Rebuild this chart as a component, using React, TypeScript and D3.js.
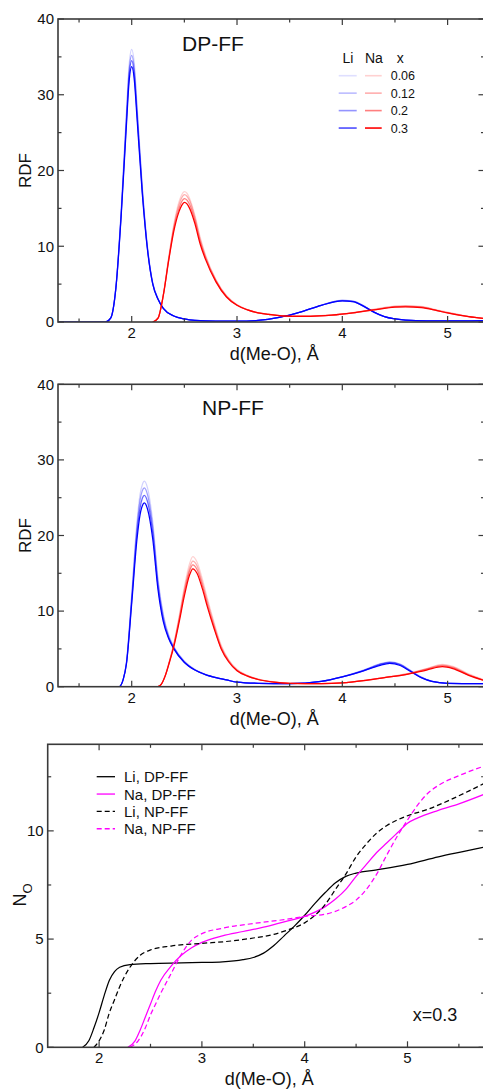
import React from "react";
import * as d3 from "d3";

const W = 483;
const H = 1089;
const FONT = "'Liberation Sans', Arial, Helvetica, sans-serif";

// ---- RDF, DP-FF ----
const dpLiR = [1.3, 1.75, 1.8, 1.85, 1.9, 1.95, 1.975, 2.0, 2.025, 2.05, 2.1, 2.15, 2.2, 2.25, 2.3, 2.4, 2.5, 2.6, 2.8, 3.0, 3.2, 3.4, 3.6, 3.8, 4.0, 4.1, 4.2, 4.3, 4.4, 4.6, 4.8, 5.0, 5.35];
const dpLi006 = [0, 0, 0.5, 4.7, 14.8, 27.8, 33.9, 36.0, 34.1, 28.8, 18.1, 9.9, 5.2, 3.1, 1.8, 0.8, 0.4, 0.2, 0.1, 0.1, 0.2, 0.6, 1.3, 2.2, 2.9, 2.8, 2.2, 1.35, 0.7, 0.25, 0.15, 0.15, 0.2];
const dpLi012 = [0, 0, 0.5, 4.6, 14.5, 27.2, 33.1, 35.2, 33.3, 28.2, 17.7, 9.8, 5.1, 3.05, 1.8, 0.8, 0.4, 0.2, 0.1, 0.1, 0.2, 0.6, 1.3, 2.2, 2.85, 2.75, 2.15, 1.3, 0.7, 0.25, 0.15, 0.15, 0.2];
const dpLi02 = [0, 0, 0.5, 4.5, 14.2, 26.6, 32.4, 34.5, 32.6, 27.6, 17.4, 9.6, 5.0, 3.0, 1.8, 0.8, 0.4, 0.2, 0.1, 0.1, 0.2, 0.6, 1.3, 2.2, 2.8, 2.7, 2.1, 1.3, 0.7, 0.25, 0.15, 0.15, 0.2];
const dpLi03 = [0, 0, 0.5, 4.5, 14, 26, 31.7, 33.7, 31.9, 27, 17, 9.5, 5, 3, 1.8, 0.8, 0.4, 0.2, 0.1, 0.1, 0.2, 0.6, 1.3, 2.2, 2.8, 2.7, 2.1, 1.3, 0.7, 0.25, 0.15, 0.15, 0.2];

const dpNaR = [2.2, 2.25, 2.3, 2.35, 2.4, 2.45, 2.475, 2.5, 2.525, 2.55, 2.6, 2.65, 2.7, 2.8, 2.9, 3.0, 3.1, 3.2, 3.3, 3.5, 3.7, 3.9, 4.1, 4.3, 4.5, 4.6, 4.75, 4.9, 5.0, 5.2, 5.35];
const dpNa006 = [0, 0.5, 3.6, 8.4, 12.9, 15.9, 16.8, 17.2, 17.0, 16.3, 14.1, 11.2, 8.9, 5.6, 3.5, 2.3, 1.65, 1.25, 1.05, 0.8, 0.8, 0.95, 1.25, 1.7, 2.1, 2.15, 2.05, 1.6, 1.3, 0.75, 0.5];
const dpNa012 = [0, 0.5, 3.6, 8.3, 12.6, 15.5, 16.4, 16.8, 16.6, 16.0, 13.8, 10.9, 8.7, 5.5, 3.4, 2.25, 1.6, 1.2, 1.0, 0.8, 0.8, 0.9, 1.2, 1.65, 2.05, 2.1, 2.0, 1.55, 1.25, 0.7, 0.45];
const dpNa02 = [0, 0.5, 3.5, 8.1, 12.3, 15.0, 15.9, 16.3, 16.1, 15.5, 13.4, 10.6, 8.5, 5.4, 3.35, 2.2, 1.6, 1.2, 1.0, 0.75, 0.75, 0.9, 1.2, 1.6, 2.0, 2.05, 1.95, 1.5, 1.2, 0.7, 0.45];
const dpNa03 = [0, 0.5, 3.5, 8, 12, 14.6, 15.4, 15.8, 15.6, 15, 13, 10.3, 8.3, 5.3, 3.3, 2.2, 1.6, 1.2, 1.0, 0.75, 0.75, 0.9, 1.2, 1.6, 1.95, 2.0, 1.9, 1.5, 1.2, 0.7, 0.45];

// ---- RDF, NP-FF ----
const npLiR = [1.85, 1.88, 1.92, 1.95, 2.0, 2.05, 2.08, 2.1, 2.12, 2.15, 2.2, 2.25, 2.3, 2.35, 2.4, 2.5, 2.6, 2.7, 2.8, 2.9, 3.0, 3.2, 3.5, 3.8, 4.0, 4.2, 4.35, 4.45, 4.55, 4.65, 4.75, 4.85, 5.0, 5.35];
const npLi006 = [0, 0, 1, 3.3, 12.3, 21.8, 25.5, 26.7, 27.2, 26.3, 21.8, 14.3, 9.6, 6.9, 5.3, 3.4, 2.3, 1.65, 1.25, 0.9, 0.6, 0.45, 0.4, 0.7, 1.35, 2.2, 3.0, 3.3, 3.0, 2.15, 1.3, 0.75, 0.45, 0.4];
const npLi012 = [0, 0, 1, 3.2, 11.9, 21.1, 24.7, 25.9, 26.3, 25.4, 21.1, 13.8, 9.3, 6.7, 5.2, 3.3, 2.25, 1.6, 1.2, 0.9, 0.6, 0.45, 0.4, 0.7, 1.3, 2.15, 2.95, 3.25, 2.95, 2.1, 1.25, 0.7, 0.45, 0.4];
const npLi02 = [0, 0, 1, 3.1, 11.4, 20.3, 23.7, 24.9, 25.3, 24.5, 20.3, 13.3, 8.9, 6.5, 5.1, 3.25, 2.2, 1.6, 1.2, 0.9, 0.6, 0.45, 0.4, 0.7, 1.3, 2.1, 2.9, 3.2, 2.9, 2.05, 1.2, 0.7, 0.45, 0.4];
const npLi03 = [0, 0, 1, 3, 11, 19.5, 22.8, 23.9, 24.3, 23.5, 19.5, 12.8, 8.6, 6.4, 5, 3.2, 2.2, 1.6, 1.2, 0.9, 0.6, 0.45, 0.4, 0.7, 1.3, 2.1, 2.8, 3.1, 2.8, 2.0, 1.2, 0.7, 0.45, 0.4];

const npNaR = [2.25, 2.28, 2.32, 2.36, 2.4, 2.45, 2.5, 2.55, 2.58, 2.62, 2.67, 2.72, 2.78, 2.85, 2.92, 3.0, 3.1, 3.2, 3.35, 3.5, 3.8, 4.0, 4.2, 4.4, 4.6, 4.8, 4.95, 5.05, 5.2, 5.35];
const npNa006 = [0, 0.3, 1.6, 3.5, 5.7, 9.3, 13.2, 16.3, 17.2, 16.5, 14.3, 11.6, 8.6, 5.5, 3.6, 2.3, 1.5, 1.0, 0.65, 0.45, 0.4, 0.5, 0.85, 1.25, 1.7, 2.4, 2.95, 2.7, 1.7, 0.9];
const npNa012 = [0, 0.3, 1.55, 3.45, 5.6, 9.0, 12.8, 15.7, 16.6, 16.0, 13.8, 11.2, 8.3, 5.3, 3.5, 2.2, 1.45, 1.0, 0.6, 0.45, 0.4, 0.5, 0.8, 1.2, 1.65, 2.35, 2.85, 2.6, 1.6, 0.85];
const npNa02 = [0, 0.3, 1.5, 3.4, 5.5, 8.8, 12.4, 15.3, 16.1, 15.5, 13.4, 10.8, 8.0, 5.1, 3.4, 2.15, 1.4, 0.95, 0.6, 0.45, 0.4, 0.5, 0.8, 1.2, 1.6, 2.3, 2.75, 2.5, 1.55, 0.8];
const npNa03 = [0, 0.3, 1.5, 3.3, 5.3, 8.5, 12, 14.8, 15.6, 15, 13, 10.5, 7.8, 5, 3.3, 2.1, 1.4, 0.95, 0.6, 0.45, 0.4, 0.5, 0.8, 1.2, 1.6, 2.2, 2.65, 2.4, 1.5, 0.8];

// ---- running coordination number, x = 0.3 ----
const liDpR = [1.84, 1.9, 1.95, 2.0, 2.05, 2.1, 2.15, 2.2, 2.3, 2.5, 2.8, 3.0, 3.2, 3.4, 3.5, 3.6, 3.7, 3.8, 3.9, 4.0, 4.1, 4.2, 4.3, 4.4, 4.5, 4.7, 5.0, 5.3, 5.55, 5.75];
const liDpN = [0, 0.3, 0.9, 1.6, 2.4, 3.1, 3.5, 3.7, 3.82, 3.87, 3.9, 3.92, 3.95, 4.05, 4.15, 4.35, 4.7, 5.15, 5.6, 6.1, 6.65, 7.15, 7.6, 7.9, 8.05, 8.2, 8.45, 8.8, 9.05, 9.25];
const naDpR = [2.28, 2.35, 2.4, 2.45, 2.5, 2.55, 2.6, 2.7, 2.8, 2.9, 3.0, 3.2, 3.4, 3.6, 3.8, 4.0, 4.2, 4.3, 4.4, 4.5, 4.6, 4.7, 4.8, 4.9, 5.0, 5.1, 5.3, 5.5, 5.75];
const naDpN = [0, 0.3, 0.8, 1.4, 2.0, 2.6, 3.1, 3.75, 4.25, 4.6, 4.85, 5.15, 5.35, 5.55, 5.8, 6.05, 6.5, 6.85, 7.3, 7.9, 8.45, 9.0, 9.45, 9.9, 10.35, 10.6, 10.95, 11.25, 11.7];
const liNpR = [1.95, 2.0, 2.05, 2.1, 2.15, 2.2, 2.25, 2.3, 2.4, 2.5, 2.7, 3.0, 3.3, 3.5, 3.7, 3.85, 4.0, 4.1, 4.2, 4.3, 4.4, 4.5, 4.6, 4.7, 4.8, 4.9, 5.0, 5.2, 5.4, 5.6, 5.75];
const liNpN = [0, 0.3, 0.8, 1.6, 2.2, 2.8, 3.3, 3.7, 4.25, 4.5, 4.68, 4.8, 4.92, 5.05, 5.22, 5.45, 5.75, 6.1, 6.6, 7.3, 8.0, 8.8, 9.4, 9.9, 10.25, 10.5, 10.7, 11.0, 11.4, 11.85, 12.2];
const naNpR = [2.3, 2.38, 2.45, 2.5, 2.55, 2.6, 2.7, 2.8, 2.9, 3.0, 3.2, 3.5, 3.8, 4.0, 4.2, 4.4, 4.5, 4.6, 4.7, 4.8, 4.9, 5.0, 5.1, 5.2, 5.3, 5.5, 5.75];
const naNpN = [0, 0.3, 0.9, 1.5, 2.0, 2.5, 3.4, 4.3, 4.95, 5.25, 5.5, 5.72, 5.9, 6.05, 6.15, 6.5, 6.8, 7.3, 8.0, 8.9, 9.75, 10.5, 11.2, 11.75, 12.1, 12.55, 13.0];

// ---- labels / ticks ----
const concLabels = ["0.06", "0.12", "0.2", "0.3"];
const rdfYMajor = [0, 10, 20, 30, 40];
const rdfYMinor = [5, 15, 25, 35];
const noYMajor = [0, 5, 10];
const noYMinor = [2.5, 7.5, 12.5];
const xMajor = [2, 3, 4, 5];
const xMinor = [1.5, 2.5, 3.5, 4.5, 5.5];
const noLegend = ["Li, DP-FF", "Na, DP-FF", "Li, NP-FF", "Na, NP-FF"];

const liOpacity = [0.18, 0.38, 0.6, 1];
const naOpacity = [0.18, 0.32, 0.5, 1];

type Series = { r: number[]; v: number[]; color: string; opacity: number; dash?: string };

function Frame(props: {
  x: d3.ScaleLinear<number, number>;
  y: d3.ScaleLinear<number, number>;
  yMajor: number[];
  yMinor: number[];
  series: Series[];
  id: string;
}) {
  const { x, y, yMajor, yMinor, series, id } = props;
  const [x0, x1] = x.range();
  const [y0, y1] = y.range(); // y0 bottom, y1 top
  const [dx0, dx1] = x.domain();
  const line = d3
    .line<[number, number]>()
    .x(d => x(d[0]))
    .y(d => y(d[1]))
    .curve(d3.curveMonotoneX);
  const xm = xMinor.filter(t => t > dx0 + 0.01 && t < dx1 - 0.01);
  const frameColor = "#3a3a3a";
  return (
    <g>
      <defs>
        <clipPath id={id}>
          <rect x={x0} y={y1} width={x1 - x0} height={y0 - y1} />
        </clipPath>
      </defs>
      <g clipPath={`url(#${id})`}>
        {series.map((s, i) => (
          <path
            key={i}
            d={line(s.r.map((r, k) => [r, s.v[k]] as [number, number])) || ""}
            fill="none"
            stroke={s.color}
            strokeOpacity={s.opacity}
            strokeWidth={1.25}
            strokeDasharray={s.dash}
          />
        ))}
      </g>
      <rect x={x0} y={y1} width={x1 - x0} height={y0 - y1} fill="none" stroke={frameColor} strokeWidth={1.6} />
      {xMajor.map(t => (
        <g key={"xM" + t}>
          <line x1={x(t)} x2={x(t)} y1={y0} y2={y0 - 6} stroke={frameColor} strokeWidth={1.2} />
          <line x1={x(t)} x2={x(t)} y1={y1} y2={y1 + 6} stroke={frameColor} strokeWidth={1.2} />
          <text x={x(t)} y={y0 + 16} textAnchor="middle" fontSize={15} fill="#111">
            {t}
          </text>
        </g>
      ))}
      {xm.map(t => (
        <g key={"xm" + t}>
          <line x1={x(t)} x2={x(t)} y1={y0} y2={y0 - 3.5} stroke={frameColor} strokeWidth={1.2} />
          <line x1={x(t)} x2={x(t)} y1={y1} y2={y1 + 3.5} stroke={frameColor} strokeWidth={1.2} />
        </g>
      ))}
      {yMajor.map(t => (
        <g key={"yM" + t}>
          <line x1={x0} x2={x0 + 6} y1={y(t)} y2={y(t)} stroke={frameColor} strokeWidth={1.2} />
          <line x1={x1} x2={x1 - 6} y1={y(t)} y2={y(t)} stroke={frameColor} strokeWidth={1.2} />
          <text x={x0 - 4} y={y(t) + 5.3} textAnchor="end" fontSize={15} fill="#111">
            {t}
          </text>
        </g>
      ))}
      {yMinor.map(t => (
        <g key={"ym" + t}>
          <line x1={x0} x2={x0 + 3.5} y1={y(t)} y2={y(t)} stroke={frameColor} strokeWidth={1.2} />
          <line x1={x1} x2={x1 - 3.5} y1={y(t)} y2={y(t)} stroke={frameColor} strokeWidth={1.2} />
        </g>
      ))}
      <text x={(x0 + x1) / 2 + 3} y={y0 + 38} textAnchor="middle" fontSize={18} fill="#111">
        d(Me-O), Å
      </text>
    </g>
  );
}

function rdfSeries(
  liR: number[], li: number[][], naR: number[], na: number[][]
): Series[] {
  const out: Series[] = [];
  li.forEach((v, i) => out.push({ r: liR, v, color: "#0000ff", opacity: liOpacity[i] }));
  na.forEach((v, i) => out.push({ r: naR, v, color: "#ff0000", opacity: naOpacity[i] }));
  return out;
}

export default function App() {
  // panel geometry
  const xTop = d3.scaleLinear().domain([1.3, 5.35]).range([58, 58 + 4.05 * 105.3]);
  const yTop = d3.scaleLinear().domain([0, 40]).range([322, 19]);
  const yMid = d3.scaleLinear().domain([0, 40]).range([686.7, 384.3]);
  const xBot = d3.scaleLinear().domain([1.5, 5.75]).range([47.7, 47.7 + 4.25 * 102.8]);
  const yBot = d3.scaleLinear().domain([0, 14]).range([1047.3, 744.3]);

  const topSeries = rdfSeries(
    dpLiR, [dpLi006, dpLi012, dpLi02, dpLi03],
    dpNaR, [dpNa006, dpNa012, dpNa02, dpNa03]
  );
  const midSeries = rdfSeries(
    npLiR, [npLi006, npLi012, npLi02, npLi03],
    npNaR, [npNa006, npNa012, npNa02, npNa03]
  );
  const botSeries: Series[] = [
    { r: liDpR, v: liDpN, color: "#000000", opacity: 1 },
    { r: naDpR, v: naDpN, color: "#ff00ff", opacity: 1 },
    { r: liNpR, v: liNpN, color: "#000000", opacity: 1, dash: "5,3" },
    { r: naNpR, v: naNpN, color: "#ff00ff", opacity: 1, dash: "5,3" },
  ];

  return (
    <svg
      width={W}
      height={H}
      style={{ position: "absolute", left: 0, top: 0, background: "#fff" }}
      fontFamily={FONT}
    >
      <rect width={W} height={H} fill="#fff" />

      {/* DP-FF RDF */}
      <Frame x={xTop} y={yTop} yMajor={rdfYMajor} yMinor={rdfYMinor} series={topSeries} id="c1" />
      <text x={182} y={51} fontSize={21} fill="#111">DP-FF</text>
      <text transform="translate(31,170.5) rotate(-90)" textAnchor="middle" fontSize={17} fill="#111">RDF</text>
      <g fontSize={14} fill="#111">
        <text x={342.5} y={63.3}>Li</text>
        <text x={365} y={63.3}>Na</text>
        <text x={396.7} y={63.3}>x</text>
      </g>
      {concLabels.map((c, i) => {
        const ly = 75.7 + i * 17.45;
        return (
          <g key={c}>
            <line x1={338.7} x2={356.7} y1={ly} y2={ly} stroke="#0000ff" strokeOpacity={liOpacity[i] * 0.7} strokeWidth={1.6} />
            <line x1={365} x2={381.7} y1={ly} y2={ly} stroke="#ff0000" strokeOpacity={naOpacity[i]} strokeWidth={1.6} />
            <text x={390.7} y={ly + 4.5} fontSize={12.5} fill="#111">{c}</text>
          </g>
        );
      })}

      {/* NP-FF RDF */}
      <Frame x={xTop} y={yMid} yMajor={rdfYMajor} yMinor={rdfYMinor} series={midSeries} id="c2" />
      <text x={202} y={415} fontSize={21} fill="#111">NP-FF</text>
      <text transform="translate(31,535.5) rotate(-90)" textAnchor="middle" fontSize={17} fill="#111">RDF</text>

      {/* coordination number */}
      <Frame x={xBot} y={yBot} yMajor={noYMajor} yMinor={noYMinor} series={botSeries} id="c3" />
      <text transform="translate(26,895) rotate(-90)" textAnchor="middle" fontSize={18} fill="#111">
        N<tspan fontSize={13} dy={6}>O</tspan>
      </text>
      {noLegend.map((lab, i) => {
        const s = botSeries[i];
        const ly = 776.7 + i * 17.35;
        return (
          <g key={lab}>
            <line x1={96.7} x2={115} y1={ly} y2={ly} stroke={s.color} strokeWidth={1.3} strokeDasharray={s.dash} />
            <text x={124} y={ly + 5.5} fontSize={15} fill="#111">{lab}</text>
          </g>
        );
      })}
      <text x={412.7} y={1020.7} fontSize={18} fill="#111">x=0.3</text>
    </svg>
  );
}
